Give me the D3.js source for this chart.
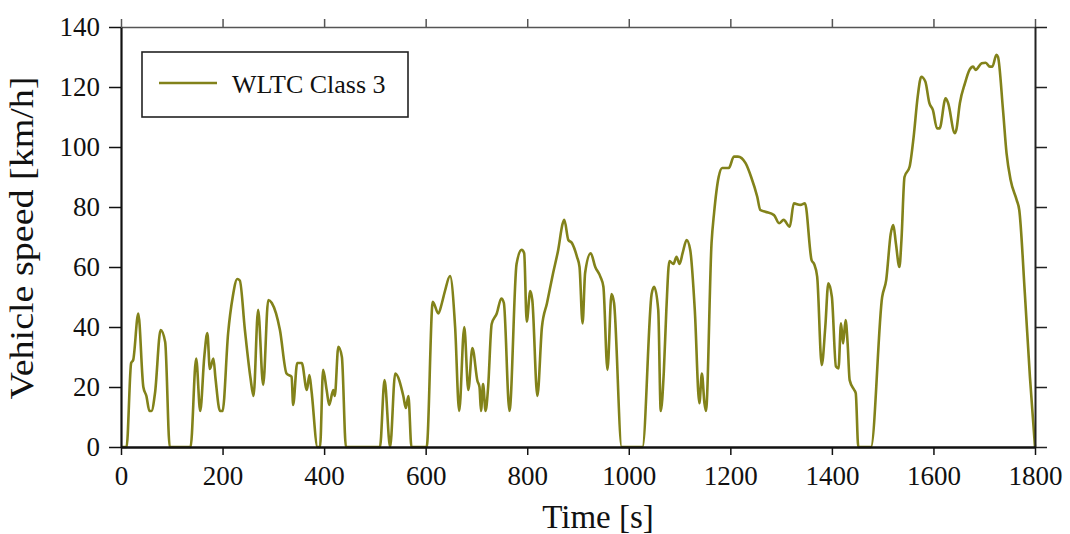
<!DOCTYPE html>
<html>
<head>
<meta charset="utf-8">
<script src="https://cdn.jsdelivr.net/npm/d3@7"></script>
<style>
  body { margin: 0; background: #fff; }
  svg { display: block; }
  text { font-family: "Liberation Serif", "Times New Roman", serif; fill: #111; }
</style>
</head>
<body>
<svg id="chart" width="1070" height="534"></svg>
<script>
// WLTC Class 3 speed trace (s, km/h)
const timeS = [0, 11, 20, 24, 34, 44, 50, 56, 60, 67, 78, 87, 96, 137, 148, 156, 164, 170, 175, 182, 186, 195, 200,
  211, 220, 229, 234, 244, 255, 261, 270, 280, 290, 297, 313, 326, 336, 339, 347, 356, 366, 371, 375, 387, 392, 398,
  405, 410, 418, 421, 428, 435, 443, 510, 519, 530, 540, 556, 561, 566, 572, 602, 614, 625, 632, 638, 648, 658, 666,
  676, 684, 692, 702, 706, 709, 713, 718, 723, 730, 740, 749, 754, 765, 779, 789, 794, 799, 806, 810, 820, 829, 839,
  851, 861, 870, 873, 881, 888, 898, 903, 909, 914, 925, 934, 944, 950, 958, 966, 971, 986, 1027, 1045, 1050, 1058,
  1063, 1069, 1074, 1080, 1088, 1094, 1100, 1106, 1114, 1121, 1130, 1139, 1144, 1149, 1152, 1163, 1168, 1177, 1184,
  1197, 1207, 1215, 1230, 1241, 1253, 1259, 1269, 1286, 1296, 1305, 1317, 1325, 1338, 1347, 1360, 1365, 1371, 1380,
  1387, 1393, 1400, 1408, 1413, 1418, 1422, 1427, 1431, 1435, 1444, 1447, 1452, 1477, 1499, 1507, 1516, 1521, 1526,
  1533, 1537, 1543, 1553, 1561, 1569, 1576, 1584, 1592, 1599, 1607, 1612, 1624, 1629, 1642, 1645, 1652, 1662, 1671,
  1678, 1683, 1695, 1703, 1711, 1716, 1724, 1727, 1737, 1744, 1752, 1764, 1769, 1780, 1790, 1800];
const speedKmh = [0, 0, 28, 29, 44.5, 20, 17, 12, 12, 18, 39, 35, 0, 0, 29.5, 12, 30, 38, 26, 29.5, 23, 12, 12,
  38, 50, 56, 55.5, 39, 23, 17, 45.7, 20.7, 49, 48, 39, 24.5, 23.4, 14, 28, 28, 19, 24, 19, 0, 0, 25.7,
  19, 14, 19, 17, 33.4, 30, 0, 0, 22.3, 0, 24.5, 17, 13, 17, 0, 0, 48.4, 44.5, 48, 52, 57, 40, 12,
  40, 19, 33, 22, 20, 12, 21, 12, 20, 41, 44.5, 49.5, 48, 12, 61, 65.7, 64.6, 41.8, 52, 49, 17, 40, 48,
  58, 65.7, 74.6, 75.7, 69, 68, 63.4, 60, 41.2, 58, 64.6, 60, 56.8, 53.4, 25.7, 51, 48, 0, 0, 51, 53.4, 45.7,
  12, 25, 45.7, 62, 61, 63.4, 61, 64.6, 69, 65.7, 45.7, 14.6, 24.5, 14.6, 12, 68, 78, 90, 93,
  93, 96.8, 96.8, 94.6, 90, 83.4, 79, 78.4, 77.3, 74.6, 75.7, 73.4, 81.2, 80.7, 81.2, 62.3, 61, 56.8, 27.3,
  40, 54.6, 50, 26.8, 26.2, 41.2, 34.5, 42.3, 34.5, 22.3, 19, 17.9, 0, 0, 50, 55.7, 71.2, 74, 67.9,
  60, 69, 90, 93.4, 103.4, 116.8, 123.4, 121.8, 114.6, 112.3, 106.2, 106.2, 116.2, 114.6, 104.6, 105.7, 114.6, 121.2, 125.7,
  126.8, 125.7, 127.9, 128.1, 126.8, 126.8, 130.7, 130.1, 112.3, 97.9, 89, 82.3, 79, 51.2, 23.4, 0];

const xTicks = [0, 200, 400, 600, 800, 1000, 1200, 1400, 1600, 1800];
const yTicks = [0, 20, 40, 60, 80, 100, 120, 140];
const seriesName = 'WLTC Class 3';

const lineColor = '#82821a';
const svg = d3.select('#chart');
const plotLeft = 121, plotRight = 1035, plotTop = 27, plotBottom = 447;

const x = d3.scaleLinear().domain([0, 1800]).range([plotLeft, plotRight]);
const y = d3.scaleLinear().domain([0, 140]).range([plotBottom, plotTop]);

const points = timeS.map((t, i) => ({t: t, v: speedKmh[i]}));

// the trace
const line = d3.line()
  .x(d => x(d.t))
  .y(d => y(d.v))
  .curve(d3.curveMonotoneX);

svg.append('path')
  .datum(points)
  .attr('d', line)
  .attr('fill', 'none')
  .attr('stroke', lineColor)
  .attr('stroke-width', 2.6)
  .attr('stroke-linejoin', 'round');

// axes
function styleAxis(g, color, width) {
  g.select('.domain').attr('stroke', color).attr('stroke-width', width);
  g.selectAll('.tick line').attr('stroke', color).attr('stroke-width', 1.5);
  g.selectAll('.tick text')
    .style('font-family', '"Liberation Serif", serif')
    .style('font-size', '27px')
    .attr('fill', '#111');
}

svg.append('g')
  .attr('transform', 'translate(0,' + plotTop + ')')
  .call(d3.axisTop(x).tickValues(xTicks).tickSize(8).tickSizeOuter(0).tickFormat(''))
  .call(g => styleAxis(g, '#555', 1.6));

svg.append('g')
  .attr('transform', 'translate(' + plotRight + ',0)')
  .call(d3.axisRight(y).tickValues(yTicks).tickSize(12).tickSizeOuter(0).tickFormat(''))
  .call(g => styleAxis(g, '#222', 2));

svg.append('g')
  .attr('transform', 'translate(0,' + plotBottom + ')')
  .call(d3.axisBottom(x).tickValues(xTicks).tickSize(8).tickPadding(11).tickSizeOuter(0).tickFormat(d3.format('d')))
  .call(g => styleAxis(g, '#111', 2.6));

svg.append('g')
  .attr('transform', 'translate(' + plotLeft + ',0)')
  .call(d3.axisLeft(y).tickValues(yTicks).tickSize(12).tickPadding(9).tickSizeOuter(0).tickFormat(d3.format('d')))
  .call(g => styleAxis(g, '#111', 2.2));

// axis titles
svg.append('text')
  .attr('x', 598)
  .attr('y', 528)
  .attr('text-anchor', 'middle')
  .style('font-size', '33px')
  .text('Time [s]');

svg.append('text')
  .attr('transform', 'translate(33,238) rotate(-90)')
  .attr('text-anchor', 'middle')
  .attr('textLength', 323)
  .attr('lengthAdjust', 'spacingAndGlyphs')
  .style('font-size', '34px')
  .text('Vehicle speed [km/h]');

// legend
const legend = svg.append('g');
legend.append('rect')
  .attr('x', 142).attr('y', 52)
  .attr('width', 266).attr('height', 65)
  .attr('fill', '#fff')
  .attr('stroke', '#222')
  .attr('stroke-width', 1.6);
legend.append('line')
  .attr('x1', 159).attr('x2', 217)
  .attr('y1', 83).attr('y2', 83)
  .attr('stroke', lineColor)
  .attr('stroke-width', 2.6);
legend.append('text')
  .attr('x', 232).attr('y', 93)
  .style('font-size', '26px')
  .text(seriesName);
</script>
</body>
</html>
